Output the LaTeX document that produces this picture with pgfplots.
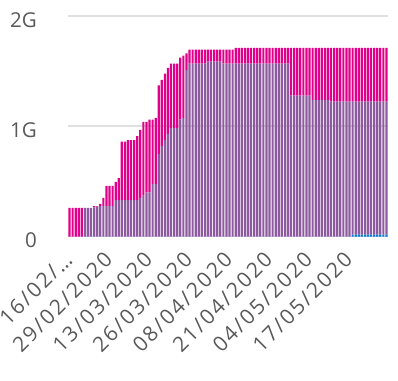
\documentclass[border=0pt]{standalone}
\usepackage{pgfplots}
\pgfplotsset{compat=1.18}
\usepackage{pgfplotstable}
\usepackage{fontspec}
\setmainfont{Open Sans}
\newfontfamily\xlab[LetterSpace=10]{Open Sans}
\definecolor{mag}{HTML}{E0008A}
\definecolor{pur}{HTML}{8D5A9F}
\definecolor{blu}{HTML}{0078D4}
\definecolor{txt}{HTML}{595959}
\definecolor{grd}{HTML}{E0E0E0}
\definecolor{basec}{HTML}{CDD0E6}

\pgfplotstableread{
x b p m
0 0 0 0.26
1 0 0 0.26
2 0 0 0.26
3 0 0 0.26
4 0 0 0.26
5 0 0.26 0
6 0 0.26 0
7 0 0.26 0
8 0 0.265 0.01
9 0 0.27 0.005
10 0 0.277 0.018
11 0 0.277 0.073
12 0 0.277 0.183
13 0 0.277 0.183
14 0 0.277 0.183
15 0 0.33 0.165
16 0 0.33 0.2
17 0 0.33 0.53
18 0 0.33 0.53
19 0 0.33 0.545
20 0 0.33 0.545
21 0 0.33 0.545
22 0 0.33 0.58
23 0 0.35 0.616
24 0 0.37 0.67
25 0 0.40 0.64
26 0 0.40 0.66
27 0 0.477 0.583
28 0 0.477 0.6
29 0 0.75 0.62
30 0 0.82 0.60
31 0 0.877 0.60
32 0 0.93 0.60
33 0 0.986 0.582
34 0 0.986 0.582
35 0 0.986 0.582
36 0 1.06 0.563
37 0 1.077 0.563
38 0 1.51 0.15
39 0 1.568 0.127
40 0 1.568 0.127
41 0 1.568 0.127
42 0 1.568 0.127
43 0 1.568 0.127
44 0 1.568 0.127
45 0 1.586 0.109
46 0 1.586 0.109
47 0 1.586 0.109
48 0 1.586 0.109
49 0 1.586 0.109
50 0 1.568 0.127
51 0 1.568 0.127
52 0 1.568 0.127
53 0 1.568 0.127
54 0 1.568 0.142
55 0 1.568 0.142
56 0 1.568 0.142
57 0 1.568 0.142
58 0 1.568 0.142
59 0 1.568 0.142
60 0 1.568 0.142
61 0 1.568 0.142
62 0 1.568 0.142
63 0 1.568 0.142
64 0 1.568 0.142
65 0 1.568 0.142
66 0 1.568 0.142
67 0 1.568 0.142
68 0 1.568 0.142
69 0 1.568 0.142
70 0 1.568 0.142
71 0 1.568 0.142
72 0 1.277 0.433
73 0 1.277 0.433
74 0 1.277 0.433
75 0 1.277 0.433
76 0 1.277 0.433
77 0 1.277 0.433
78 0 1.277 0.433
79 0 1.24 0.47
80 0 1.24 0.47
81 0 1.24 0.47
82 0 1.24 0.47
83 0 1.24 0.47
84 0 1.24 0.47
85 0 1.223 0.487
86 0 1.223 0.487
87 0 1.223 0.487
88 0 1.223 0.487
89 0 1.223 0.487
90 0 1.223 0.487
91 0 1.223 0.487
92 0.018 1.205 0.487
93 0.018 1.205 0.487
94 0.018 1.205 0.487
95 0.018 1.205 0.487
96 0.018 1.205 0.487
97 0.018 1.205 0.487
98 0.018 1.205 0.487
99 0.018 1.205 0.487
100 0.018 1.205 0.487
101 0.018 1.205 0.487
102 0.018 1.205 0.487
103 0.018 1.205 0.487
}\data

\begin{document}
\begin{tikzpicture}
\useasboundingbox (0pt,0pt) rectangle (398pt,380pt);
\begin{axis}[
  at={(68pt,143.5pt)}, anchor=south west,
  scale only axis, width=320pt, height=220.5pt,
  xmin=-0.5, xmax=103.5, ymin=0, ymax=2,
  ybar stacked, bar width=0.72,
  axis x line*=bottom, axis y line*=left,
  x axis line style={basec, line width=1.5pt, -},
  y axis line style={draw=none},
  major tick length=0pt,
  ymajorgrids, grid style={grd, line width=1.5pt},
  ytick={0,1,2}, yticklabels={0,1G,2G},
  yticklabel style={font=\fontsize{20.5}{20.5}\selectfont, text=txt, inner sep=0pt, xshift=-31pt, yshift=-4pt, anchor=east},
  xtick={0,13,26,39,52,65,78,91},
  xticklabels={16/02/…,29/02/2020,13/03/2020,26/03/2020,08/04/2020,21/04/2020,04/05/2020,17/05/2020},
  xticklabel style={font=\xlab\fontsize{21}{21}\selectfont, text=txt, inner sep=0pt, yshift=-19.5pt, xshift=-1pt, rotate=45, anchor=east},
]
\addplot[fill=blu, draw=none] table[x=x, y=b] {\data};
\addplot[fill=pur, draw=none] table[x=x, y=p] {\data};
\addplot[fill=mag, draw=none] table[x=x, y=m] {\data};
\end{axis}
\end{tikzpicture}
\end{document}
